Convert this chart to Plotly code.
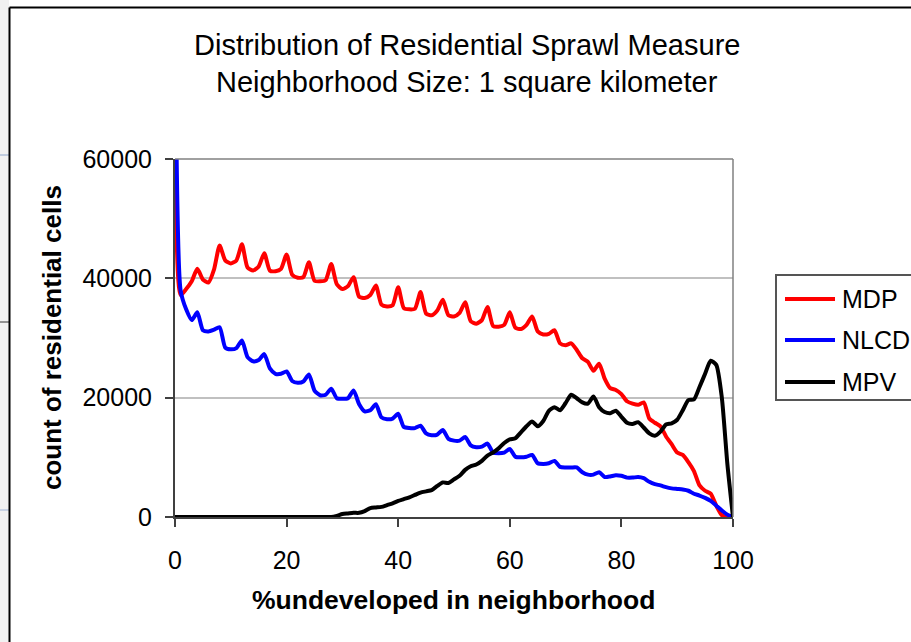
import plotly.graph_objects as go

# ---------------- data ----------------
pct_undeveloped = list(range(0, 101))

mdp = [75000, 37200, 38200, 39500, 41600, 39800, 39300, 41500, 45500, 43000,
       42500, 43000, 45700, 41800, 41300, 42000, 44200, 41300, 41200, 41600,
       44000, 40600, 40100, 40200, 42700, 39600, 39500, 39700, 42400, 39000,
       38200, 38700, 40200, 36900, 36700, 37200, 38800, 35600, 35300, 35500,
       38500, 35000, 34800, 34900, 37700, 34100, 33800, 34600, 36400, 33800,
       33600, 34200, 36000, 32800, 32400, 33000, 35200, 32000, 31900, 32200,
       34300, 31700, 31500, 32200, 33600, 31100, 30600, 30700, 31300, 29100,
       28800, 29100, 28000, 26600, 26000, 24500, 25700, 23200, 21600, 21300,
       20600, 19400, 19000, 18800, 19200, 16500, 15800, 15200, 13500, 12200,
       10800, 10400, 9200, 7700, 5300, 4400, 3900, 1900, 300, 0,
       0]

nlcd = [90000, 38000, 34800, 33000, 34300, 31300, 31100, 31400, 31800, 28400,
        28100, 28300, 29600, 26800, 26100, 26300, 27300, 24900, 24000, 24000,
        24400, 22800, 22500, 22700, 23900, 21200, 20400, 20500, 21500, 19900,
        19800, 19900, 21200, 18900, 17700, 17900, 18900, 16700, 16400, 16500,
        17300, 15100, 14900, 14900, 15300, 14000, 13700, 13800, 14600, 13100,
        12800, 12800, 13400, 12000, 11700, 11800, 12300, 10800, 10700, 10800,
        11400, 10100, 10000, 10100, 10400, 9000, 8900, 9000, 9400, 8400,
        8300, 8300, 8300, 7500, 7100, 7100, 7500, 6700, 6800, 7000,
        6900, 6600, 6600, 6700, 6500, 5900, 5500, 5300, 5000, 4800,
        4700, 4600, 4400, 3900, 3600, 3200, 2700, 1900, 1100, 400,
        0]

mpv = [0, 0, 0, 0, 0, 0, 0, 0, 0, 0,
       0, 0, 0, 0, 0, 0, 0, 0, 0, 0,
       0, 0, 0, 0, 0, 0, 0, 0, 0, 200,
       500, 600, 700, 700, 1000, 1500, 1600, 1700, 2000, 2300,
       2700, 3000, 3300, 3700, 4100, 4300, 4500, 5200, 5800, 5700,
       6300, 6900, 7900, 8500, 8800, 9400, 10300, 10800, 11500, 12400,
       13000, 13200, 14200, 15200, 16000, 15200, 16100, 17800, 18400, 17900,
       19100, 20500, 19900, 19200, 19000, 20200, 18400, 17600, 17400, 17800,
       16800, 15800, 15600, 15900, 15000, 14000, 13600, 14300, 15500, 15700,
       16300, 17900, 19600, 19700, 21800, 24000, 26200, 25500, 20000, 8800,
       0]

series_names = ["MDP", "NLCD", "MPV"]
series_colors = ["#ff0000", "#0000ff", "#000000"]

x_tick_vals = [0, 20, 40, 60, 80, 100]
x_tick_text = ["0", "20", "40", "60", "80", "100"]
y_tick_vals = [0, 20000, 40000, 60000]
y_tick_text = ["0", "20000", "40000", "60000"]

title_line1 = "Distribution of Residential Sprawl Measure"
title_line2 = "Neighborhood Size: 1 square kilometer"
x_title = "%undeveloped in neighborhood"
y_title = "count of residential cells"

# ---------------- layout geometry ----------------
W, H = 911, 642
L, R, T, B = 175, 733, 159, 517   # plot area in pixels
FONT = "Arial, 'Liberation Sans', sans-serif"


def px(x):
    return (x - L) / (R - L)


def py(y):
    return (B - y) / (B - T)


fig = go.Figure()
for name, vals, col in zip(series_names, [mdp, nlcd, mpv], series_colors):
    fig.add_trace(go.Scatter(
        x=pct_undeveloped, y=vals, name=name, mode="lines",
        line=dict(color=col, width=4, shape="spline", smoothing=0.6),
        showlegend=False, hoverinfo="x+y+name"))

shapes = []
# outer frame artefacts (page border)
shapes.append(dict(type="rect", xref="paper", yref="paper",
                   x0=px(0), x1=px(9), y0=py(700), y1=py(-20),
                   fillcolor="#f1f1f1", line=dict(width=0), layer="below"))
for yy, c in [(155, "#8fa6cc"), (322, "#333333"), (510, "#9fb3d6")]:
    shapes.append(dict(type="line", xref="paper", yref="paper",
                       x0=px(0), x1=px(9), y0=py(yy), y1=py(yy),
                       line=dict(color=c, width=1)))
shapes.append(dict(type="line", xref="paper", yref="paper",
                   x0=px(9.5), x1=px(930), y0=py(7.5), y1=py(7.5),
                   line=dict(color="#000000", width=2)))
shapes.append(dict(type="line", xref="paper", yref="paper",
                   x0=px(9.5), x1=px(9.5), y0=py(7.5), y1=py(700),
                   line=dict(color="#000000", width=2)))
# plot-area top/right border
shapes.append(dict(type="line", xref="paper", yref="paper",
                   x0=0, x1=1, y0=1, y1=1, line=dict(color="#808080", width=1.5)))
shapes.append(dict(type="line", xref="paper", yref="paper",
                   x0=1, x1=1, y0=0, y1=1, line=dict(color="#808080", width=1.5)))

# legend (manual, Excel-like)
shapes.append(dict(type="rect", xref="paper", yref="paper",
                   x0=px(776), x1=px(930), y0=py(400), y1=py(275),
                   line=dict(color="#555555", width=2), fillcolor="rgba(0,0,0,0)"))
annotations = []
leg_y = [299, 340, 382]
for name, col, yy in zip(series_names, series_colors, leg_y):
    shapes.append(dict(type="line", xref="paper", yref="paper",
                       x0=px(785), x1=px(835), y0=py(yy), y1=py(yy),
                       line=dict(color=col, width=4)))
    annotations.append(dict(text=name, xref="paper", yref="paper",
                            x=px(840), y=py(yy), xanchor="left", yanchor="middle",
                            showarrow=False, font=dict(size=25, color="#000", family=FONT)))

# chart title (two centred lines)
for txt, yy in [(title_line1, 45), (title_line2, 82)]:
    annotations.append(dict(text=txt, xref="paper", yref="paper",
                            x=px(467), y=py(yy), xanchor="center", yanchor="middle",
                            showarrow=False, font=dict(size=29, color="#000", family=FONT)))

# axis titles
annotations.append(dict(text=f"<b>{x_title}</b>", xref="paper", yref="paper",
                        x=px(453), y=py(600), xanchor="center", yanchor="middle",
                        showarrow=False, font=dict(size=26.5, color="#000", family=FONT)))
annotations.append(dict(text=f"<b>{y_title}</b>", xref="paper", yref="paper",
                        x=px(52), y=py(338), xanchor="center", yanchor="middle",
                        textangle=-90, showarrow=False,
                        font=dict(size=26, color="#000", family=FONT)))

fig.update_layout(
    width=W, height=H,
    margin=dict(l=L, r=W - R, t=T, b=H - B, pad=0),
    paper_bgcolor="white", plot_bgcolor="white",
    font=dict(family=FONT, color="#000000"),
    shapes=shapes, annotations=annotations,
    showlegend=False,
)
fig.update_xaxes(range=[0, 100], tickvals=x_tick_vals, ticktext=x_tick_text,
                 showgrid=False, zeroline=False, showline=True,
                 linecolor="#404040", linewidth=2, ticks="outside", ticklen=8,
                 tickwidth=1.5, tickcolor="#404040", ticklabelstandoff=12,
                 tickfont=dict(size=25, family=FONT, color="#000"))
fig.update_yaxes(range=[0, 60000], tickvals=y_tick_vals, ticktext=y_tick_text,
                 showgrid=True, gridcolor="#c0c0c0", gridwidth=1.5,
                 zeroline=False, showline=True,
                 linecolor="#404040", linewidth=2, ticks="outside", ticklen=8,
                 tickwidth=1.5, tickcolor="#404040", ticklabelstandoff=8,
                 tickfont=dict(size=25, family=FONT, color="#000"))

fig.write_html("out.html", include_plotlyjs=True,
               config={"displayModeBar": False},
               post_script="document.body.style.margin='0';document.body.style.overflow='hidden';")
